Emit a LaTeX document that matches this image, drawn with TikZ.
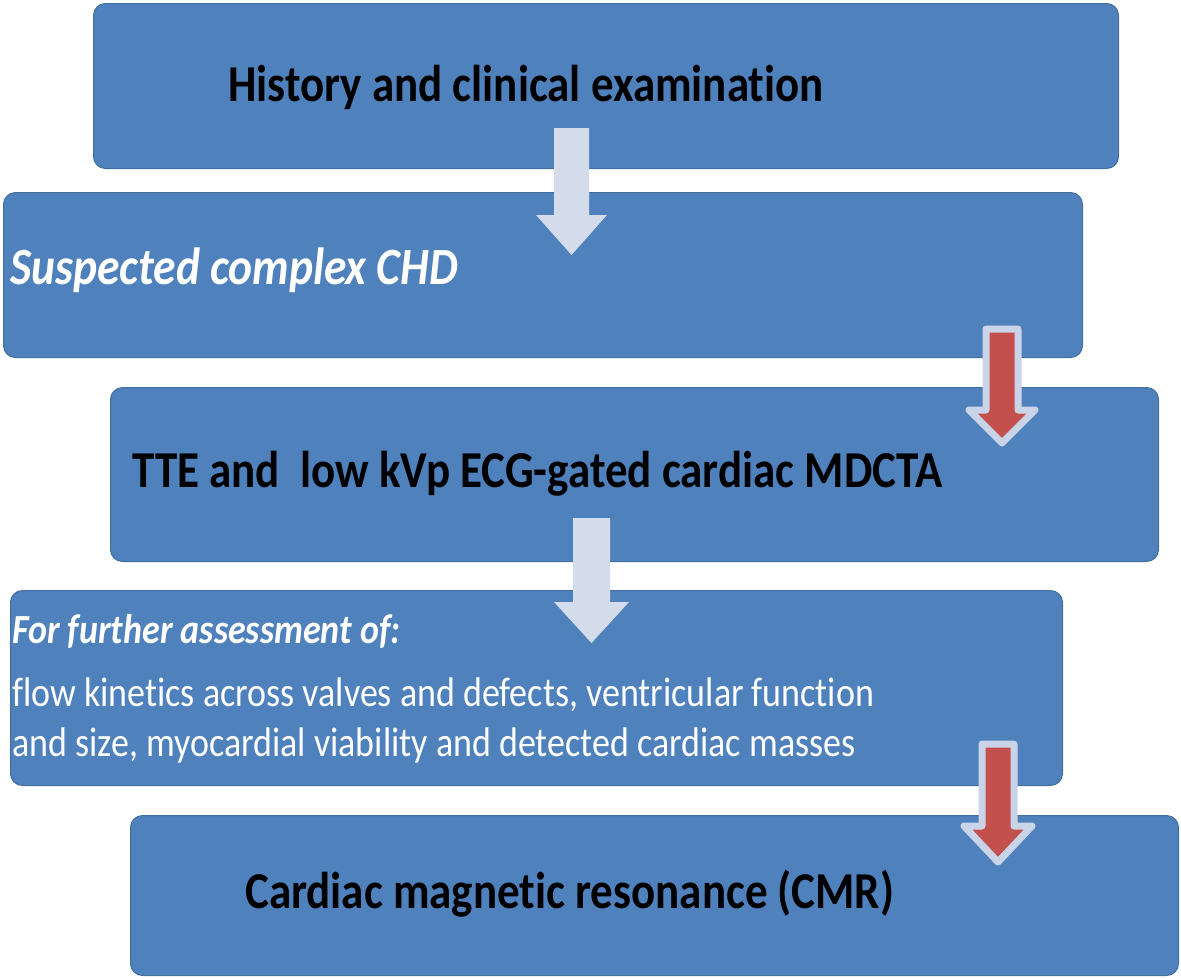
\documentclass[tikz,border=0pt]{standalone}
\usepackage{fontspec}
\setmainfont{Carlito}[Ligatures=NoCommon]
\definecolor{boxblue}{HTML}{4F81BD}
\definecolor{boxedge}{HTML}{41709F}
\definecolor{garrow}{HTML}{D4DCEB}
\definecolor{rarrow}{HTML}{C4504D}
\definecolor{rarrowedge}{HTML}{C9D4E8}
\newcommand{\tallText}[1]{\scalebox{1}[1.15]{#1}}
\tikzset{
  box/.style={rectangle, fill=boxblue, draw=boxedge, line width=1pt, rounded corners=12pt, anchor=north west, inner sep=0pt},
  greyarrow/.style={fill=garrow},
  redarrow/.style={fill=rarrow, draw=rarrowedge, line width=7pt, line join=round},
  darklabel/.style={anchor=base west, inner sep=0pt, text=black, font=\fontsize{45}{50}\selectfont\bfseries},
  whitehead/.style={anchor=base west, inner sep=0pt, text=white, font=\fontsize{45.5}{50}\selectfont\bfseries\itshape},
  whitesub/.style={anchor=base west, inner sep=0pt, text=white, font=\fontsize{36}{40}\selectfont\bfseries\itshape},
  whitebody/.style={anchor=base west, inner sep=0pt, text=white, font=\fontsize{36}{40}\selectfont},
}
\begin{document}
\begin{tikzpicture}[x=1pt, y=-1pt]
\useasboundingbox (0,0) rectangle (1181,978);
% boxes
\node[box, minimum width=1025pt, minimum height=165pt] (b1) at (93,3) {};
\node[box, minimum width=1079pt, minimum height=165pt] (b2) at (3,192) {};
\node[box, minimum width=1048pt, minimum height=174pt] (b3) at (110,387) {};
\node[box, minimum width=1052pt, minimum height=195pt] (b4) at (10,590) {};
\node[box, minimum width=1048pt, minimum height=160pt] (b5) at (130,815) {};
% grey block arrows
\fill[greyarrow] (554,128) -- (589,128) -- (589,215) -- (607,215) -- (571.5,255) -- (536,215) -- (554,215) -- cycle;
\fill[greyarrow] (573,518) -- (610,518) -- (610,602) -- (629,602) -- (591.5,643) -- (554,602) -- (573,602) -- cycle;
% red block arrows
\draw[redarrow] (986,329) -- (1018,329) -- (1018,410) -- (1035,410) -- (1002,443) -- (969,410) -- (986,410) -- cycle;
\draw[redarrow] (982,744) -- (1014,744) -- (1014,826) -- (1032,826) -- (998,862) -- (964,826) -- (982,826) -- cycle;
% texts
\node[darklabel] (t1) at (228,101) {\tallText{History and clinical examination}};
\node[whitehead] (t2) at (10,284) {\tallText{Suspected complex CHD}};
\node[darklabel] (t3) at (132,487) {\tallText{TTE and\ \ low kVp ECG-gated cardiac MDCTA}};
\node[whitesub] (t4) at (12,643) {\tallText{For further assessment of:}};
\node[whitebody] (t5) at (12,706) {\tallText{flow kinetics across valves and defects, ventricular function}};
\node[whitebody] (t6) at (12,756) {\tallText{and size, myocardial viability and detected cardiac masses}};
\node[darklabel] (t7) at (245,908) {\tallText{Cardiac magnetic resonance (CMR)}};
\end{tikzpicture}
\end{document}
